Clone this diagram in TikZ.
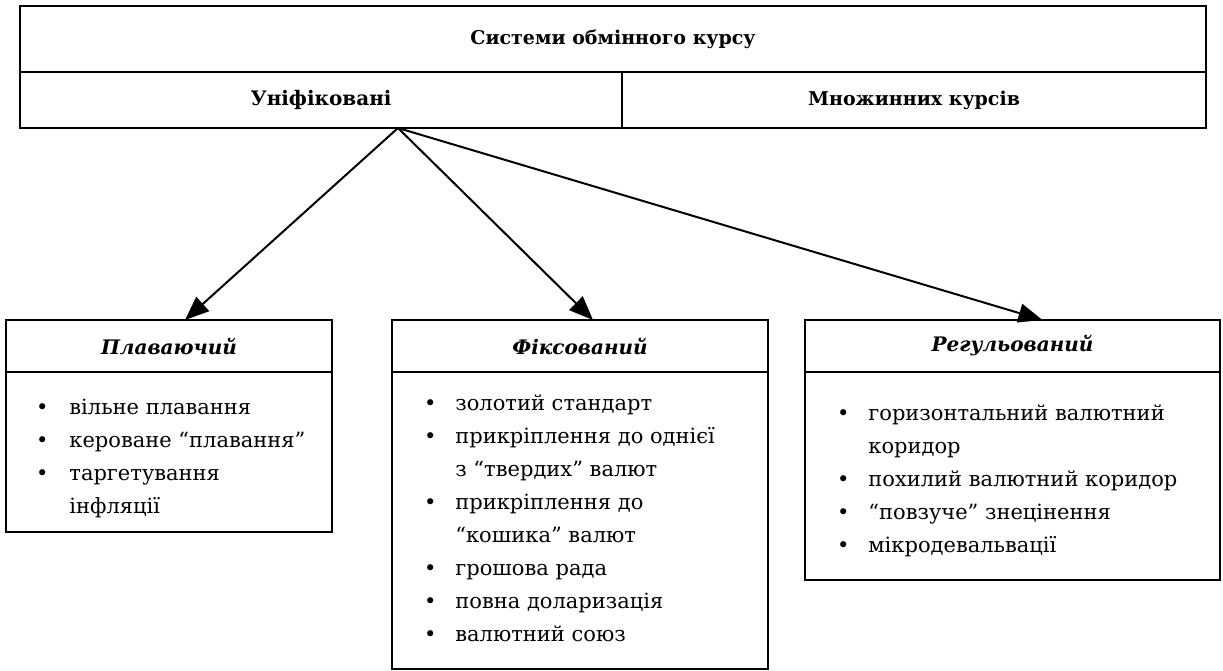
\documentclass[tikz,border=0pt]{standalone}
\usepackage{fontspec}
\setmainfont{DejaVu Serif}
\usetikzlibrary{arrows.meta,positioning}

\begin{document}
\begin{tikzpicture}[x=1pt, y=-1pt, line width=2pt, every node/.style={outer sep=0pt}, cell/.style={draw,inner sep=0pt,font=\fontsize{19}{22}\selectfont\bfseries}, head/.style={draw,inner sep=0pt,minimum height=52pt,font=\fontsize{20}{22}\selectfont\bfseries\itshape}, body/.style={draw,inner sep=0pt}, list/.style={inner sep=0pt,align=left,font=\fontsize{21}{33}\selectfont}, arrow/.style={-{Triangle[length=24pt,width=19pt]},line width=2pt}]
\useasboundingbox (0,0) rectangle (1223,671);
% top table
\node[cell,minimum width=1186pt,minimum height=66pt] (title) at (613,39) {Системи обмінного курсу};
\node[cell,minimum width=602pt,minimum height=56pt,below right=0pt and 0pt of title.south west,font=\fontsize{20}{22}\selectfont\bfseries] (unif) {Уніфіковані};
\node[cell,minimum width=584pt,minimum height=56pt,right=0pt of unif] (multi) {Множинних курсів};
% three kinds
\node[head,minimum width=326pt] (floatH) at (169,346) {Плаваючий};
\node[body,minimum width=326pt,minimum height=160pt,below=0pt of floatH] (floatB) {};
\node[head,minimum width=376pt] (fixH) at (580,346) {Фіксований};
\node[body,minimum width=376pt,minimum height=297pt,below=0pt of fixH] (fixB) {};
\node[head,minimum width=415pt] (regH) at (1012.5,346) {Регульований};
\node[body,minimum width=415pt,minimum height=208pt,below=0pt of regH] (regB) {};
% lists
\node[list,below right=19pt and 30pt of floatB.north west] (floatL) {\begin{tabular}{@{}l@{\hspace{21pt}}l@{}}
\textbullet & вільне плавання\\
\textbullet & кероване “плавання”\\
\textbullet & таргетування\\
 & інфляції
\end{tabular}};
\node[list,below right=15pt and 32pt of fixB.north west] (fixL) {\begin{tabular}{@{}l@{\hspace{19pt}}l@{}}
\textbullet & золотий стандарт\\
\textbullet & прикріплення до однієї\\
 & з “твердих” валют\\
\textbullet & прикріплення до\\
 & “кошика” валют\\
\textbullet & грошова рада\\
\textbullet & повна доларизація\\
\textbullet & валютний союз
\end{tabular}};
\node[list,below right=25pt and 32pt of regB.north west] (regL) {\begin{tabular}{@{}l@{\hspace{19pt}}l@{}}
\textbullet & горизонтальний валютний\\
 & коридор\\
\textbullet & похилий валютний коридор\\
\textbullet & “повзуче” знецінення\\
\textbullet & мікродевальвації
\end{tabular}};
% arrows
\coordinate (fork) at (398,128);
\draw[arrow] (fork) -- ([xshift=16pt]floatH.north);
\draw[arrow] (fork) -- ([xshift=13pt]fixH.north);
\draw[arrow] (fork) -- ([xshift=30pt]regH.north);
\end{tikzpicture}
\end{document}
